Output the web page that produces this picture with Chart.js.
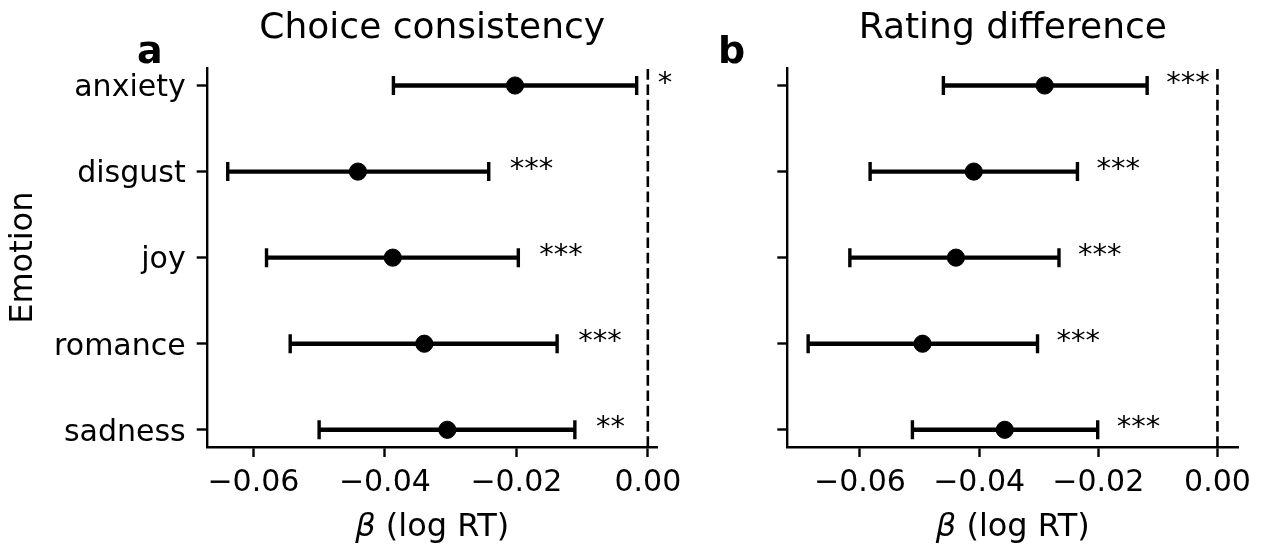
<!DOCTYPE html>
<html>
<head>
<meta charset="utf-8">
<script src="https://cdn.jsdelivr.net/npm/chart.js@4.4.0/dist/chart.umd.min.js"></script>
<style>
  html, body { margin: 0; padding: 0; background: #fff; }
  #wrap { position: relative; width: 1262px; height: 547px; overflow: hidden; }
  canvas { position: absolute; top: 0; }
</style>
</head>
<body>
<div id="wrap">
  <canvas id="panel-a" width="700" height="547" style="left:0"></canvas>
  <canvas id="panel-b" width="562" height="547" style="left:700px"></canvas>
</div>
<script>
/* Emotion effects on log RT — two forest panels */

const FONT = '"DejaVu Sans", sans-serif';

// --- Data ---

const emotions = ['anxiety', 'disgust', 'joy', 'romance', 'sadness'];
const xTicks = [-0.06, -0.04, -0.02, 0];

const choiceEst = [-0.0202, -0.0441, -0.0388, -0.0340, -0.0305];
const choiceLo = [-0.0387, -0.0639, -0.0580, -0.0544, -0.0500];
const choiceHi = [-0.0017, -0.0242, -0.0197, -0.0138, -0.0111];
const choiceStars = ['*', '***', '***', '***', '**'];

const ratingEst = [-0.0290, -0.0409, -0.0439, -0.0495, -0.0357];
const ratingLo = [-0.0460, -0.0583, -0.0617, -0.0687, -0.0512];
const ratingHi = [-0.0118, -0.0235, -0.0266, -0.0302, -0.0201];
const ratingStars = ['***', '***', '***', '***', '***'];

const STAR_GAP = 0.0032;

// --- Helpers ---

function fmtTick(v) {
    if (Math.abs(v) < 1e-9) return '0.00';
    return (v < 0 ? '\u2212' : '') + Math.abs(v).toFixed(2);
}

function buildDatasets(est, lo, hi) {
    const sets = [];
    // point estimates on top
    sets.push({
        data: est.map((v, i) => ({ x: v, y: i })),
        showLine: false,
        pointStyle: 'circle',
        pointRadius: 8.6,
        pointBackgroundColor: '#000',
        pointBorderColor: '#000',
        pointBorderWidth: 1,
        order: 0,
    });
    // error bars, caps drawn as rotated line points
    emotions.forEach((_, i) => sets.push({
        data: [{ x: lo[i], y: i }, { x: hi[i], y: i }],
        showLine: true,
        borderColor: '#000',
        borderWidth: 4.4,
        pointStyle: 'line',
        pointRotation: 90,
        pointRadius: 9.5,
        pointBorderColor: '#000',
        pointBorderWidth: 3.4,
        order: 1,
    }));
    // dashed zero line
    sets.push({
        data: [{ x: 0, y: 4.2 }, { x: 0, y: -0.2 }],
        showLine: true,
        borderColor: '#000',
        borderWidth: 2.6,
        borderDash: [10.7, 4.6],
        pointRadius: 0,
        order: 2,
    });
    return sets;
}

function textPlugin(cfg) {
    return {
        id: 'panelText',
        afterDraw(chart) {
            const { ctx, chartArea: a, scales: { x, y } } = chart;
            const cx = (a.left + a.right) / 2;
            ctx.save();
            ctx.fillStyle = '#000';
            ctx.textBaseline = 'alphabetic';

            ctx.font = `36px ${FONT}`;
            ctx.textAlign = 'center';
            ctx.fillText(cfg.title, cx, 38);

            ctx.font = `bold 38px ${FONT}`;
            ctx.textAlign = 'left';
            ctx.fillText(cfg.letter, cfg.letterX, 63);

            ctx.font = `29px ${FONT}`;
            cfg.stars.forEach((s, i) => {
                ctx.fillText(s, x.getPixelForValue(cfg.hi[i] + STAR_GAP), y.getPixelForValue(i) + 6);
            });

            // x label with italic beta
            const beta = 'β', rest = ' (log RT)';
            ctx.font = `italic 32px ${FONT}`;
            const wb = ctx.measureText(beta).width;
            ctx.font = `32px ${FONT}`;
            const wr = ctx.measureText(rest).width;
            const x0 = cx - (wb + wr) / 2;
            ctx.font = `italic 32px ${FONT}`;
            ctx.fillText(beta, x0, 536);
            ctx.font = `32px ${FONT}`;
            ctx.fillText(rest, x0 + wb, 536);
            ctx.restore();
        }
    };
}

function makePanel(id, p) {
    return new Chart(document.getElementById(id), {
        type: 'scatter',
        data: { datasets: buildDatasets(p.est, p.lo, p.hi) },
        options: {
            responsive: false,
            animation: false,
            events: [],
            layout: { padding: { left: 0, right: p.padRight, top: 68.3, bottom: 0 } },
            plugins: { legend: { display: false }, tooltip: { enabled: false } },
            scales: {
                x: {
                    type: 'linear',
                    min: p.xMin,
                    max: p.xMax,
                    afterBuildTicks: s => { s.ticks = xTicks.map(v => ({ value: v })); },
                    afterFit: s => { s.height = 100; },
                    grid: { drawOnChartArea: false, tickLength: 10, tickWidth: 2.4, tickColor: '#000' },
                    border: { display: true, color: '#000', width: 2.4 },
                    ticks: {
                        autoSkip: false, maxRotation: 0, padding: 8, color: '#000',
                        font: { family: FONT, size: 30 },
                        callback: v => fmtTick(v),
                    },
                },
                y: {
                    type: 'linear',
                    reverse: true,
                    min: -0.2,
                    max: 4.2,
                    afterBuildTicks: s => { s.ticks = emotions.map((_, i) => ({ value: i })); },
                    afterFit: s => { s.width = p.yWidth; },
                    grid: { drawOnChartArea: false, tickLength: 10, tickWidth: 2.4, tickColor: '#000' },
                    border: { display: true, color: '#000', width: 2.4 },
                    ticks: {
                        autoSkip: false, padding: 11, labelOffset: 3, color: '#000',
                        font: { family: FONT, size: 30 },
                        callback: v => p.showYLabels ? emotions[Math.round(v)] : '',
                    },
                    title: {
                        display: p.showYLabels,
                        text: 'Emotion',
                        color: '#000',
                        font: { family: FONT, size: 32 },
                        padding: { top: 4, bottom: 4 },
                    },
                },
            },
        },
        plugins: [textPlugin({ title: p.title, letter: p.letter, letterX: p.letterX, stars: p.stars, hi: p.hi })],
    });
}

// --- Init ---

makePanel('panel-a', {
    est: choiceEst, lo: choiceLo, hi: choiceHi, stars: choiceStars,
    xMin: -0.0671, xMax: 0.0015,
    title: 'Choice consistency', letter: 'a', letterX: 137,
    yWidth: 206.7, padRight: 42.3, showYLabels: true,
});

makePanel('panel-b', {
    est: ratingEst, lo: ratingLo, hi: ratingHi, stars: ratingStars,
    xMin: -0.0722, xMax: 0.0035,
    title: 'Rating difference', letter: 'b', letterX: 18,
    yWidth: 87.3, padRight: 23.7, showYLabels: false,
});
</script>
</body>
</html>
